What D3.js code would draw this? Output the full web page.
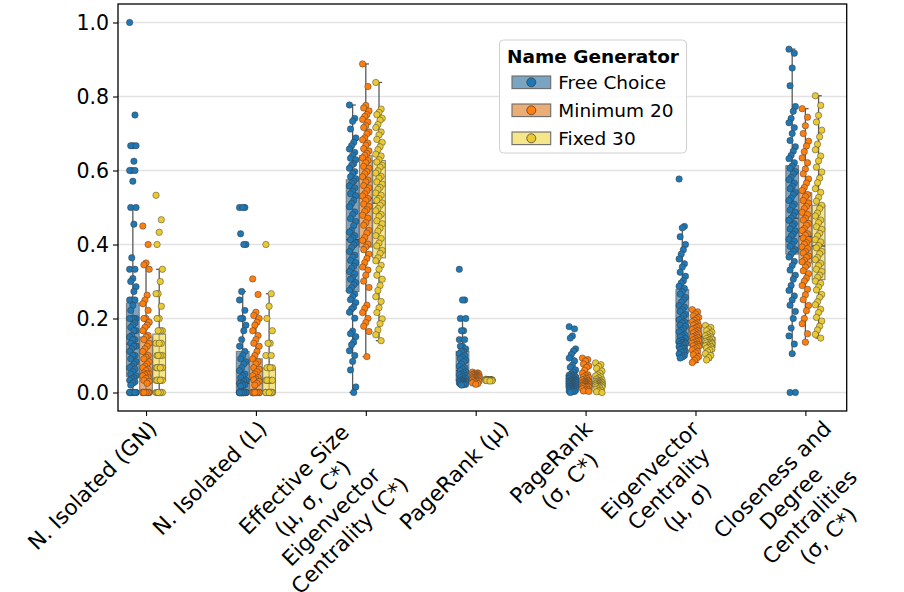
<!DOCTYPE html>
<html>
<head>
<meta charset="utf-8">
<script src="https://cdn.jsdelivr.net/npm/d3@7"></script>
<style>
  body { margin: 0; background: #fff; }
  svg text { font-family: "DejaVu Sans", Verdana, sans-serif; fill: #000; }
</style>
</head>
<body>
<div id="chart"></div>
<script>
var categories = [
  ["N. Isolated (GN)"],
  ["N. Isolated (L)"],
  ["Effective Size", "(μ, σ, C*)", "Eigenvector", "Centrality (C*)"],
  ["PageRank (μ)"],
  ["PageRank", "(σ, C*)"],
  ["Eigenvector", "Centrality", "(μ, σ)"],
  ["Closeness and", "Degree", "Centralities", "(σ, C*)"]
];
var seriesNames = ["Free Choice", "Minimum 20", "Fixed 30"];
var yTicks = [0, 0.2, 0.4, 0.6, 0.8, 1.0];

// points, one array per category
var freeChoice = [
  [1.0, 0.75, 0.667, 0.667, 0.667, 0.625, 0.6, 0.6, 0.6, 0.571, 0.5, 0.5, 0.455, 0.364, 0.333, 0.333, 0.308, 0.3, 0.286, 0.273, 0.25, 0.25, 0.25, 0.235, 0.222, 0.2, 0.2, 0.2, 0.2, 0.188, 0.182, 0.176, 0.167, 0.167, 0.154, 0.15, 0.143, 0.143, 0.133, 0.125, 0.125, 0.118, 0.111, 0.1, 0.1, 0.091, 0.083, 0.077, 0.071, 0.067, 0.063, 0.056, 0.05, 0.045, 0.04, 0.037, 0.033, 0.029, 0.025, 0.02, 0, 0, 0, 0, 0, 0, 0, 0, 0, 0, 0, 0],
  [0.5, 0.5, 0.5, 0.429, 0.4, 0.4, 0.273, 0.25, 0.222, 0.2, 0.2, 0.182, 0.167, 0.143, 0.125, 0.111, 0.1, 0.091, 0.083, 0.077, 0.067, 0.059, 0.05, 0.045, 0.04, 0.033, 0.03, 0.025, 0.025, 0.02, 0.02, 0.017, 0, 0, 0, 0, 0, 0, 0, 0, 0, 0, 0, 0, 0, 0, 0, 0, 0, 0, 0, 0, 0, 0, 0, 0, 0, 0, 0, 0, 0, 0, 0, 0],
  [0.777, 0.741, 0.733, 0.712, 0.688, 0.676, 0.667, 0.658, 0.649, 0.641, 0.633, 0.629, 0.618, 0.614, 0.606, 0.597, 0.592, 0.583, 0.578, 0.571, 0.566, 0.558, 0.553, 0.544, 0.537, 0.532, 0.519, 0.511, 0.502, 0.488, 0.481, 0.47, 0.462, 0.451, 0.438, 0.433, 0.424, 0.418, 0.413, 0.404, 0.399, 0.392, 0.381, 0.371, 0.366, 0.357, 0.351, 0.341, 0.336, 0.327, 0.321, 0.31, 0.306, 0.297, 0.291, 0.283, 0.276, 0.266, 0.259, 0.251, 0.243, 0.231, 0.226, 0.217, 0.201, 0.166, 0.159, 0.151, 0.136, 0.129, 0.113, 0.1, 0.084, 0.061, 0.015, 0.0],
  [0.333, 0.25, 0.25, 0.2, 0.2, 0.167, 0.167, 0.143, 0.143, 0.125, 0.125, 0.118, 0.111, 0.111, 0.105, 0.1, 0.095, 0.091, 0.087, 0.083, 0.077, 0.071, 0.067, 0.063, 0.059, 0.056, 0.053, 0.05, 0.048, 0.045, 0.043, 0.04, 0.038, 0.036, 0.034, 0.033, 0.032, 0.031, 0.03, 0.029, 0.028, 0.027, 0.026, 0.025, 0.024, 0.023, 0.022, 0.021, 0.02],
  [0.178, 0.172, 0.153, 0.147, 0.118, 0.112, 0.103, 0.093, 0.085, 0.074, 0.068, 0.061, 0.055, 0.05, 0.047, 0.046, 0.045, 0.043, 0.042, 0.04, 0.039, 0.038, 0.036, 0.035, 0.034, 0.033, 0.032, 0.031, 0.03, 0.03, 0.029, 0.028, 0.027, 0.026, 0.025, 0.024, 0.023, 0.022, 0.021, 0.02, 0.019, 0.018, 0.017, 0.016, 0.015, 0.015, 0.014, 0.013, 0.012, 0.011, 0.01, 0.009, 0.008, 0.007, 0.006, 0.005, 0.004, 0.003, 0.002, 0.0],
  [0.577, 0.449, 0.445, 0.421, 0.4, 0.386, 0.374, 0.361, 0.348, 0.339, 0.325, 0.314, 0.302, 0.296, 0.287, 0.281, 0.272, 0.266, 0.257, 0.25, 0.244, 0.235, 0.231, 0.224, 0.219, 0.211, 0.207, 0.2, 0.197, 0.191, 0.188, 0.182, 0.179, 0.172, 0.168, 0.164, 0.157, 0.153, 0.15, 0.146, 0.14, 0.141, 0.137, 0.135, 0.134, 0.13, 0.131, 0.128, 0.125, 0.124, 0.12, 0.119, 0.116, 0.111, 0.11, 0.108, 0.104, 0.1, 0.096, 0.093],
  [0.928, 0.917, 0.877, 0.829, 0.773, 0.76, 0.741, 0.729, 0.716, 0.7, 0.681, 0.664, 0.652, 0.641, 0.632, 0.621, 0.612, 0.606, 0.597, 0.591, 0.581, 0.575, 0.566, 0.557, 0.551, 0.541, 0.535, 0.525, 0.519, 0.509, 0.503, 0.493, 0.487, 0.477, 0.471, 0.465, 0.456, 0.451, 0.442, 0.437, 0.428, 0.423, 0.414, 0.409, 0.4, 0.395, 0.386, 0.381, 0.374, 0.366, 0.354, 0.343, 0.331, 0.317, 0.306, 0.289, 0.276, 0.261, 0.25, 0.236, 0.219, 0.2, 0.174, 0.153, 0.131, 0.105, 0.0, 0.0]
];
var minimum20 = [
  [0.45, 0.4, 0.35, 0.345, 0.333, 0.263, 0.25, 0.24, 0.222, 0.2, 0.2, 0.19, 0.182, 0.176, 0.167, 0.154, 0.15, 0.143, 0.133, 0.125, 0.118, 0.111, 0.1, 0.095, 0.091, 0.083, 0.077, 0.071, 0.067, 0.063, 0.059, 0.053, 0.05, 0.05, 0.048, 0.045, 0.04, 0.038, 0.033, 0.03, 0.025, 0, 0, 0, 0, 0, 0, 0, 0, 0, 0, 0, 0, 0, 0, 0, 0, 0, 0, 0],
  [0.307, 0.265, 0.217, 0.208, 0.2, 0.19, 0.182, 0.167, 0.154, 0.143, 0.133, 0.125, 0.111, 0.1, 0.091, 0.083, 0.077, 0.067, 0.063, 0.056, 0.05, 0.045, 0.04, 0.036, 0.034, 0.03, 0.025, 0.02, 0, 0, 0, 0, 0, 0, 0, 0, 0, 0, 0, 0, 0, 0, 0, 0, 0, 0, 0, 0, 0, 0, 0, 0, 0, 0, 0, 0],
  [0.888, 0.827, 0.776, 0.769, 0.761, 0.751, 0.746, 0.738, 0.731, 0.721, 0.716, 0.704, 0.699, 0.688, 0.683, 0.674, 0.668, 0.659, 0.653, 0.646, 0.641, 0.634, 0.627, 0.621, 0.611, 0.606, 0.597, 0.591, 0.583, 0.574, 0.569, 0.559, 0.553, 0.546, 0.537, 0.531, 0.524, 0.519, 0.509, 0.503, 0.494, 0.489, 0.479, 0.471, 0.459, 0.452, 0.438, 0.431, 0.419, 0.411, 0.401, 0.393, 0.386, 0.374, 0.362, 0.351, 0.339, 0.331, 0.317, 0.301, 0.284, 0.236, 0.227, 0.216, 0.2, 0.189, 0.179, 0.165, 0.097],
  [0.055, 0.053, 0.052, 0.05, 0.05, 0.049, 0.048, 0.047, 0.046, 0.045, 0.044, 0.043, 0.042, 0.041, 0.04, 0.04, 0.039, 0.038, 0.037, 0.036, 0.035, 0.034, 0.033, 0.032, 0.031, 0.03, 0.029, 0.028, 0.026, 0.024, 0.022],
  [0.093, 0.089, 0.085, 0.077, 0.072, 0.068, 0.06, 0.052, 0.048, 0.045, 0.042, 0.04, 0.038, 0.036, 0.034, 0.032, 0.03, 0.029, 0.028, 0.027, 0.026, 0.025, 0.024, 0.023, 0.022, 0.021, 0.02, 0.019, 0.018, 0.017, 0.016, 0.016, 0.015, 0.014, 0.012, 0.01, 0.008, 0.006, 0.004, 0.003],
  [0.224, 0.218, 0.212, 0.207, 0.203, 0.199, 0.195, 0.191, 0.188, 0.185, 0.182, 0.179, 0.176, 0.173, 0.17, 0.167, 0.164, 0.161, 0.158, 0.155, 0.152, 0.15, 0.148, 0.145, 0.142, 0.14, 0.138, 0.135, 0.133, 0.13, 0.128, 0.126, 0.124, 0.121, 0.118, 0.115, 0.111, 0.107, 0.102, 0.097, 0.092, 0.087, 0.081],
  [0.767, 0.744, 0.721, 0.7, 0.679, 0.666, 0.651, 0.634, 0.621, 0.604, 0.591, 0.577, 0.566, 0.554, 0.546, 0.535, 0.529, 0.519, 0.512, 0.503, 0.497, 0.487, 0.481, 0.471, 0.466, 0.457, 0.452, 0.443, 0.438, 0.429, 0.425, 0.417, 0.413, 0.405, 0.401, 0.393, 0.389, 0.381, 0.377, 0.369, 0.365, 0.357, 0.353, 0.345, 0.339, 0.329, 0.321, 0.309, 0.301, 0.289, 0.279, 0.264, 0.251, 0.235, 0.221, 0.2, 0.186, 0.159, 0.136]
];
var fixed30 = [
  [0.533, 0.467, 0.433, 0.4, 0.333, 0.3, 0.267, 0.267, 0.233, 0.2, 0.2, 0.167, 0.167, 0.167, 0.133, 0.133, 0.133, 0.1, 0.1, 0.1, 0.1, 0.067, 0.067, 0.067, 0.067, 0.067, 0.067, 0.033, 0.033, 0.033, 0.033, 0.033, 0.033, 0.033, 0, 0, 0, 0, 0, 0, 0, 0],
  [0.4, 0.267, 0.233, 0.2, 0.167, 0.133, 0.133, 0.1, 0.1, 0.067, 0.067, 0.067, 0.067, 0.033, 0.033, 0.033, 0.033, 0.033, 0.033, 0, 0, 0, 0, 0, 0, 0, 0, 0, 0, 0, 0, 0, 0, 0, 0, 0, 0, 0],
  [0.838, 0.766, 0.757, 0.751, 0.741, 0.736, 0.724, 0.716, 0.704, 0.696, 0.684, 0.676, 0.664, 0.656, 0.644, 0.639, 0.629, 0.623, 0.614, 0.609, 0.599, 0.593, 0.584, 0.579, 0.569, 0.563, 0.554, 0.549, 0.539, 0.533, 0.524, 0.519, 0.512, 0.506, 0.497, 0.491, 0.481, 0.476, 0.464, 0.456, 0.444, 0.436, 0.424, 0.416, 0.404, 0.396, 0.384, 0.376, 0.364, 0.356, 0.344, 0.333, 0.317, 0.306, 0.289, 0.276, 0.259, 0.246, 0.229, 0.216, 0.199, 0.186, 0.169, 0.156, 0.14],
  [0.036, 0.035, 0.035, 0.034, 0.034, 0.034, 0.0335, 0.0335, 0.0333, 0.0333, 0.0333, 0.0333, 0.033, 0.033, 0.0328, 0.0325, 0.032, 0.032, 0.0315, 0.031],
  [0.08, 0.075, 0.07, 0.065, 0.058, 0.052, 0.048, 0.045, 0.042, 0.039, 0.036, 0.034, 0.032, 0.031, 0.03, 0.029, 0.028, 0.027, 0.026, 0.025, 0.024, 0.023, 0.023, 0.022, 0.021, 0.02, 0.019, 0.018, 0.018, 0.017, 0.016, 0.015, 0.014, 0.012, 0.01, 0.008, 0.006, 0.004, 0.002, 0.0],
  [0.181, 0.176, 0.171, 0.167, 0.163, 0.159, 0.156, 0.153, 0.15, 0.148, 0.146, 0.144, 0.142, 0.14, 0.138, 0.136, 0.135, 0.134, 0.132, 0.13, 0.128, 0.126, 0.124, 0.122, 0.12, 0.117, 0.114, 0.11, 0.105, 0.1, 0.094, 0.088],
  [0.802, 0.776, 0.749, 0.731, 0.709, 0.691, 0.671, 0.656, 0.639, 0.626, 0.609, 0.596, 0.579, 0.567, 0.551, 0.541, 0.527, 0.517, 0.506, 0.497, 0.485, 0.477, 0.466, 0.459, 0.448, 0.441, 0.43, 0.423, 0.413, 0.407, 0.397, 0.391, 0.381, 0.375, 0.365, 0.359, 0.349, 0.343, 0.333, 0.327, 0.317, 0.311, 0.301, 0.295, 0.285, 0.277, 0.265, 0.257, 0.245, 0.237, 0.225, 0.216, 0.203, 0.193, 0.179, 0.169, 0.157, 0.147]
];

// box statistics: [whisker low, q1, median, q3, whisker high]
var freeChoiceBox = [
  [0, 0.043, 0.131, 0.242, 0.5], [0, 0, 0.025, 0.111, 0.273], [0, 0.273, 0.413, 0.575, 0.777],
  [0.02, 0.032, 0.059, 0.111, 0.2], [0, 0.015, 0.03, 0.046, 0.093], [0.093, 0.133, 0.194, 0.278, 0.447],
  [0.105, 0.374, 0.471, 0.613, 0.928]
];
var minimum20Box = [
  [0, 0, 0.05, 0.15, 0.35], [0, 0, 0.035, 0.091, 0.217], [0.097, 0.393, 0.525, 0.64, 0.888],
  [0.022, 0.031, 0.04, 0.048, 0.055], [0.003, 0.016, 0.025, 0.039, 0.075], [0.081, 0.126, 0.151, 0.18, 0.224],
  [0.136, 0.35, 0.422, 0.54, 0.767]
];
var fixed30Box = [
  [0, 0.034, 0.067, 0.158, 0.333], [0, 0, 0.033, 0.066, 0.267], [0.14, 0.364, 0.512, 0.627, 0.838],
  [0.031, 0.0323, 0.0333, 0.0345, 0.036], [0, 0.016, 0.023, 0.03, 0.05], [0.088, 0.122, 0.135, 0.149, 0.181],
  [0.147, 0.305, 0.396, 0.506, 0.802]
];

function init(){
  var w = 904, h = 592;
  var left = 118, right = 846.7, top = 4, bottom = 411;

  var pointColors = ["#1f77b4", "#ff7f0e", "#e9c934"];
  var boxColors = ["#3274a1", "#e1812c", "#efd84a"];
  var points = [freeChoice, minimum20, fixed30];
  var boxes = [freeChoiceBox, minimum20Box, fixed30Box];
  var dodge = [-0.12, 0, 0.12];
  var boxW = 0.116;
  // label anchor shift along x (px), per category
  var labelShift = [0, 0, -24, 22, -4, -7, 15];

  var x = d3.scaleLinear().domain([-0.255, 6.376]).range([left, right]);
  var y = d3.scaleLinear().domain([-0.05, 1.05]).range([bottom, top]);
  var bw = x(boxW) - x(0);

  var svg = d3.select("#chart")
    .append("svg")
    .attr("width", w)
    .attr("height", h);

  // grid
  svg.selectAll("line.grid")
    .data(yTicks)
    .enter()
    .append("line")
    .attr("class", "grid")
    .attr("x1", left).attr("x2", right)
    .attr("y1", function(d){ return y(d); })
    .attr("y2", function(d){ return y(d); })
    .attr("stroke", "#e2e2e2")
    .attr("stroke-width", 1.5);

  // boxes
  var plot = svg.append("g");
  boxes.forEach(function(set, s){
    set.forEach(function(b, c){
      var cx = x(c + dodge[s]);
      var g = plot.append("g");
      g.append("line")
        .attr("x1", cx).attr("x2", cx)
        .attr("y1", y(b[0])).attr("y2", y(b[4]))
        .attr("stroke", "#5a5a5a").attr("stroke-width", 1.3);
      [b[0], b[4]].forEach(function(v){
        g.append("line")
          .attr("x1", cx - bw / 4).attr("x2", cx + bw / 4)
          .attr("y1", y(v)).attr("y2", y(v))
          .attr("stroke", "#5a5a5a").attr("stroke-width", 1.3);
      });
      g.append("rect")
        .attr("x", cx - bw / 2)
        .attr("y", y(b[3]))
        .attr("width", bw)
        .attr("height", Math.max(1, y(b[1]) - y(b[3])))
        .attr("fill", boxColors[s])
        .attr("fill-opacity", 0.65)
        .attr("stroke", "#6a6a6a")
        .attr("stroke-opacity", 0.8)
        .attr("stroke-width", 1.1);
      g.append("line")
        .attr("x1", cx - bw / 2).attr("x2", cx + bw / 2)
        .attr("y1", y(b[2])).attr("y2", y(b[2]))
        .attr("stroke", "#3c3c3c").attr("stroke-width", 1.3);
    });
  });

  // points
  points.forEach(function(set, s){
    set.forEach(function(vals, c){
      plot.append("g")
        .selectAll("circle")
        .data(vals)
        .enter()
        .append("circle")
        .attr("cx", function(d, i){
          var j = ((i * 5) % 7 - 3) / 3;
          return x(c + dodge[s]) + j * 3.2;
        })
        .attr("cy", function(d){ return y(d); })
        .attr("r", 3.2)
        .attr("fill", pointColors[s])
        .attr("stroke", "#3a3a3a")
        .attr("stroke-opacity", 0.8)
        .attr("stroke-width", 0.6);
    });
  });

  // frame
  svg.append("rect")
    .attr("x", left).attr("y", top)
    .attr("width", right - left).attr("height", bottom - top)
    .attr("fill", "none")
    .attr("stroke", "#000")
    .attr("stroke-width", 1.3);

  // y axis
  var yAxis = svg.append("g")
    .attr("transform", "translate(" + left + ",0)")
    .call(d3.axisLeft(y).tickValues(yTicks).tickFormat(d3.format(".1f")).tickSize(5).tickPadding(4));
  yAxis.select(".domain").remove();
  yAxis.selectAll("text").style("font-size", "20.5px");
  yAxis.selectAll("line").attr("stroke", "#000").attr("stroke-width", 1.1);

  // x axis
  var xAxis = svg.append("g")
    .attr("transform", "translate(0," + bottom + ")")
    .call(d3.axisBottom(x).tickValues(d3.range(categories.length)).tickSize(5).tickFormat(""));
  xAxis.select(".domain").remove();
  xAxis.selectAll("line").attr("stroke", "#000").attr("stroke-width", 1.1);

  // rotated multi-line labels, centered lines, anchored top-right
  var lh = 26.3, fs = 21.5;
  categories.forEach(function(lines, c){
    var g = svg.append("g")
      .attr("transform", "translate(" + (x(c) + labelShift[c]) + "," + (bottom + 7) + ") rotate(-45)");
    var texts = lines.map(function(t, k){
      return g.append("text")
        .attr("y", k * lh + fs * 0.8)
        .attr("text-anchor", "middle")
        .style("font-size", fs + "px")
        .text(t);
    });
    var wMax = d3.max(texts, function(t){ return t.node().getComputedTextLength(); });
    texts.forEach(function(t){ t.attr("x", -wMax / 2); });
  });

  // legend
  var lg = svg.append("g");
  lg.append("rect")
    .attr("x", 499.5).attr("y", 40)
    .attr("width", 187).attr("height", 113)
    .attr("rx", 4)
    .attr("fill", "#fff").attr("fill-opacity", 0.85)
    .attr("stroke", "#d0d0d0").attr("stroke-width", 1);
  lg.append("text")
    .attr("x", 593).attr("y", 63)
    .attr("text-anchor", "middle")
    .style("font-size", "18.5px")
    .style("font-weight", "bold")
    .text("Name Generator");
  seriesNames.forEach(function(name, s){
    var cy = 82.3 + s * 28;
    lg.append("rect")
      .attr("x", 512).attr("y", cy - 6.3)
      .attr("width", 38.7).attr("height", 12.6)
      .attr("fill", boxColors[s]).attr("fill-opacity", 0.65)
      .attr("stroke", "#6a6a6a").attr("stroke-width", 1.1);
    lg.append("circle")
      .attr("cx", 531.3).attr("cy", cy).attr("r", 4.5)
      .attr("fill", pointColors[s])
      .attr("stroke", "#3a3a3a").attr("stroke-width", 0.7);
    lg.append("text")
      .attr("x", 558.3).attr("y", cy + 6.5)
      .style("font-size", "18.5px")
      .text(name);
  });
}

window.onload = init;
</script>
</body>
</html>
